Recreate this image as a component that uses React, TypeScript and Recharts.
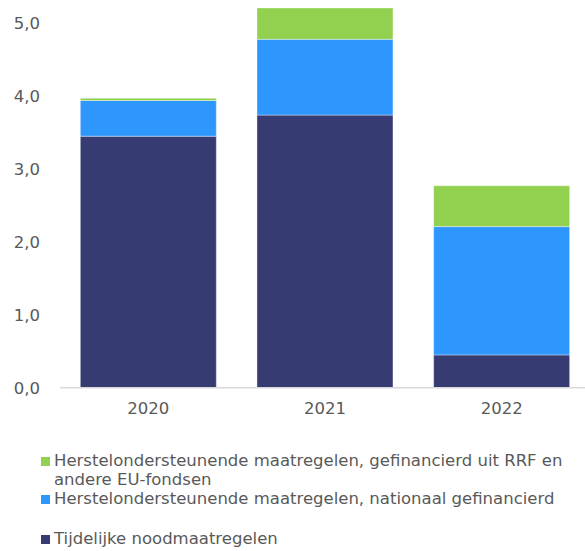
import React from "react";
import { Bar, BarChart, XAxis, YAxis } from "recharts";

const years = ["2020", "2021", "2022"];
const noodmaatregelen = [3.45, 3.74, 0.45];
const nationaal = [0.49, 1.04, 1.76];
const rrfEu = [0.03, 0.43, 0.56];
const yTicks = [0, 1, 2, 3, 4, 5];

const colors = {
  nood: "#363B72",
  nationaal: "#2E97FD",
  rrf: "#92D050",
  text: "#595959",
  axis: "#D9D9D9",
};

const FONT = "'DejaVu Sans', sans-serif";

const data = years.map((year, i) => ({
  year,
  nood: noodmaatregelen[i],
  nationaal: nationaal[i],
  rrf: rrfEu[i],
}));

// top = y of the first text line's box in the page
const legendItems = [
  { color: colors.rrf, top: 451, lines: ["Herstelondersteunende maatregelen, gefinancierd uit RRF en", "andere EU-fondsen"] },
  { color: colors.nationaal, top: 489, lines: ["Herstelondersteunende maatregelen, nationaal gefinancierd"] },
  { color: colors.nood, top: 529, lines: ["Tijdelijke noodmaatregelen"] },
];

const formatTick = (v: number) => v.toFixed(1).replace(".", ",");

export default function App() {
  return (
    <div style={{ position: "absolute", left: 0, top: 0, width: 585, height: 551, background: "#fff", fontFamily: FONT, overflow: "hidden" }}>
      {/* plot runs a little past the right edge, like the original */}
      <BarChart
        width={600}
        height={420}
        data={data}
        margin={{ top: 5, right: 10, left: 0, bottom: 2.3 }}
        barCategoryGap="11.5%"
      >
        <XAxis
          dataKey="year"
          height={30}
          tickLine={false}
          axisLine={{ stroke: colors.axis, strokeWidth: 1.5 }}
          tick={{ fill: colors.text, fontSize: 16.5, fontFamily: FONT }}
          tickMargin={9}
        />
        <YAxis
          width={60}
          domain={[0, 5.25]}
          ticks={yTicks}
          axisLine={false}
          tickLine={false}
          tickSize={0}
          tickMargin={20}
          tickFormatter={formatTick}
          tick={{ fill: colors.text, fontSize: 16.5, fontFamily: FONT }}
        />
        <Bar dataKey="nood" stackId="a" fill={colors.nood} stroke="#ffffff" strokeOpacity={0.5} strokeWidth={0.75} isAnimationActive={false} />
        <Bar dataKey="nationaal" stackId="a" fill={colors.nationaal} stroke="#ffffff" strokeOpacity={0.5} strokeWidth={0.75} isAnimationActive={false} />
        <Bar dataKey="rrf" stackId="a" fill={colors.rrf} stroke="#ffffff" strokeOpacity={0.5} strokeWidth={0.75} isAnimationActive={false} />
      </BarChart>

      {legendItems.map((item) => (
        <div
          key={item.color}
          style={{ position: "absolute", left: 41, top: item.top, display: "flex", alignItems: "flex-start", color: colors.text, fontSize: 16.5, lineHeight: "19px" }}
        >
          <span style={{ display: "inline-block", width: 9, height: 9, background: item.color, marginTop: 6, marginRight: 4, flex: "none" }} />
          <span style={{ whiteSpace: "nowrap" }}>
            {item.lines.map((line, j) => (
              <div key={j}>{line}</div>
            ))}
          </span>
        </div>
      ))}
    </div>
  );
}
